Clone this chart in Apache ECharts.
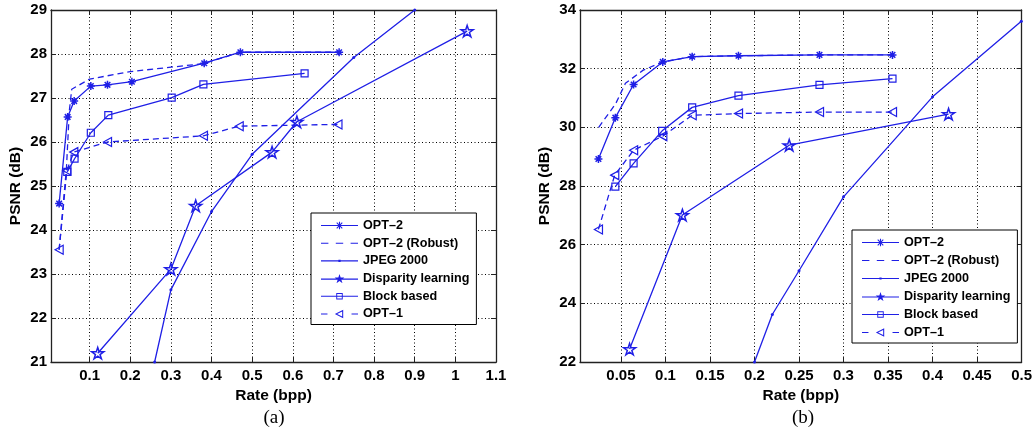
<!DOCTYPE html>
<html>
<head>
<meta charset="utf-8">
<title>Rate vs PSNR</title>
<script src="https://cdn.jsdelivr.net/npm/echarts@6/dist/echarts.min.js"></script>
<style>
  html, body { margin: 0; padding: 0; background: #fff; }
  #main { width: 1035px; height: 436px; }
</style>
</head>
<body>
<div id="main"></div>
<script>
// ---- data, plot (a) ----
const aOpt2Rate = [0.025, 0.046, 0.062, 0.103, 0.144, 0.204, 0.382, 0.471, 0.714];
const aOpt2Psnr = [24.6, 26.57, 26.93, 27.27, 27.3, 27.37, 27.79, 28.04, 28.04];
const aRobustRate = [0.025, 0.043, 0.05, 0.056, 0.1, 0.2, 0.38, 0.471, 0.714];
const aRobustPsnr = [23.55, 25.4, 26.7, 27.2, 27.43, 27.6, 27.78, 28.04, 28.04];
const aJpegRate = [0.26, 0.30, 0.40, 0.50, 0.75, 0.90];
const aJpegPsnr = [21.0, 22.64, 24.42, 25.72, 27.92, 29.0];
const aDispRate = [0.12, 0.30, 0.361, 0.549, 0.61, 1.029];
const aDispPsnr = [21.2, 23.11, 24.55, 25.77, 26.46, 28.52];
const aBlockRate = [0.045, 0.063, 0.103, 0.146, 0.302, 0.38, 0.629];
const aBlockPsnr = [25.32, 25.62, 26.21, 26.61, 27.01, 27.31, 27.56];
const aOpt1Rate = [0.025, 0.044, 0.061, 0.144, 0.38, 0.468, 0.711];
const aOpt1Psnr = [23.55, 25.35, 25.77, 26.0, 26.14, 26.36, 26.4];

// ---- data, plot (b) ----
const bOpt2Rate = [0.0247, 0.0437, 0.0642, 0.097, 0.13, 0.182, 0.273, 0.355];
const bOpt2Psnr = [28.92, 30.33, 31.46, 32.23, 32.41, 32.44, 32.47, 32.47];
const bRobustRate = [0.025, 0.044, 0.055, 0.075, 0.097, 0.13, 0.182, 0.273, 0.355];
const bRobustPsnr = [30.0, 30.8, 31.5, 31.95, 32.23, 32.41, 32.44, 32.47, 32.47];
const bJpegRate = [0.2, 0.22, 0.25, 0.30, 0.40, 0.4997];
const bJpegPsnr = [22.0, 23.62, 25.11, 27.63, 31.04, 33.62];
const bDispRate = [0.0597, 0.119, 0.239, 0.418];
const bDispPsnr = [22.44, 27.01, 29.39, 30.45];
const bBlockRate = [0.0437, 0.0642, 0.0963, 0.13, 0.182, 0.273, 0.355];
const bBlockPsnr = [27.98, 28.77, 29.88, 30.68, 31.08, 31.45, 31.66];
const bOpt1Rate = [0.0247, 0.043, 0.0642, 0.097, 0.13, 0.182, 0.273, 0.355];
const bOpt1Psnr = [26.52, 28.37, 29.22, 29.7, 30.41, 30.47, 30.52, 30.52];

// ---- axes ----
const aRateTicks = [0.1, 0.2, 0.3, 0.4, 0.5, 0.6, 0.7, 0.8, 0.9, 1, 1.1];
const bRateTicks = [0.05, 0.1, 0.15, 0.2, 0.25, 0.3, 0.35, 0.4, 0.45, 0.5];
const seriesNames = ["OPT–2", "OPT–2 (Robust)", "JPEG 2000", "Disparity learning", "Block based", "OPT–1"];

const BLUE = "#1f1fe6";
const FONT = "'Liberation Sans', Arial, sans-serif";

const zip = (xs, ys) => xs.map((x, i) => [x, ys[i]]);

// marker shapes
const asterisk = "path://M0,-5L0,5M-5,0L5,0M-3.5,-3.5L3.5,3.5M-3.5,3.5L3.5,-3.5";
const star = "path://M0,-10L2.245,-3.09L9.51,-3.09L3.633,1.18L5.878,8.09L0,3.82L-5.878,8.09L-3.633,1.18L-9.51,-3.09L-2.245,-3.09Z";
const leftTri = "path://M0,5L9,0L9,10Z";

// legend icons, drawn in a 40x12 box
const lineBar = "M0,5.4H40V6.6H0Z";
const legendIcons = [
  "path://" + lineBar + "M19.4,2H20.6V10H19.4Z M16.6,3.4L17.4,2.6L23.4,8.6L22.6,9.4Z M22.6,2.6L23.4,3.4L17.4,9.4L16.6,8.6Z",
  "path://M0,5.4H8V6.6H0Z M16,5.4H24V6.6H16Z M32,5.4H40V6.6H32Z",
  "path://" + lineBar + "M18.8,4.8H21.2V7.2H18.8Z",
  "path://" + lineBar + "M20,0.5L21.235,4.3L25.23,4.3L22,6.65L23.23,10.45L20,8.1L16.77,10.45L18,6.65L14.77,4.3L18.765,4.3Z",
  "path://" + lineBar + "M16.5,2.5H23.5V9.5H16.5Z M17.5,3.5V8.5H22.5V3.5Z",
  "path://M0,5.4H7V6.6H0Z M33,5.4H40V6.6H33Z M15,6L24,1.5L24,10.5Z M17.4,6L22.9,8.75L22.9,3.25Z",
];

// one line series
function makeSeries(name, idx, data, opts) {
  return {
    type: "line",
    name: name,
    xAxisIndex: idx,
    yAxisIndex: idx,
    data: data,
    symbol: opts.symbol,
    symbolSize: opts.size,
    symbolKeepAspect: true,
    showSymbol: opts.symbol !== "none",
    lineStyle: { color: BLUE, width: 1.3, type: opts.dashed ? [6, 4] : "solid" },
    itemStyle: opts.filled
      ? { color: BLUE, borderColor: BLUE, borderWidth: 0 }
      : { color: "none", borderColor: BLUE, borderWidth: opts.stroke || 1.2 },
    emphasis: { disabled: true },
    z: 3,
  };
}

function seriesFor(idx, d) {
  return [
    makeSeries(seriesNames[0], idx, d.opt2, { symbol: asterisk, size: 8, stroke: 1.5 }),
    makeSeries(seriesNames[1], idx, d.robust, { symbol: "none", dashed: true }),
    makeSeries(seriesNames[2], idx, d.jpeg, { symbol: "circle", size: 3, filled: true }),
    makeSeries(seriesNames[3], idx, d.disp, { symbol: star, size: 12, stroke: 1.5 }),
    makeSeries(seriesNames[4], idx, d.block, { symbol: "rect", size: 7 }),
    makeSeries(seriesNames[5], idx, d.opt1, { symbol: leftTri, size: 9, dashed: true }),
  ];
}

const boxLine = { show: true, onZero: false, lineStyle: { color: "#222", width: 1.3 } };
const gridLine = { show: true, lineStyle: { color: "#000", width: 1, type: [1, 2.5] } };
const tickLabel = { fontFamily: FONT, fontWeight: "bold", fontSize: 15, color: "#000" };
const nameStyle = { fontFamily: FONT, fontWeight: "bold", fontSize: 15.5, color: "#000" };

function xAxes(grid, min, max, ticks) {
  return [
    {
      type: "value", gridIndex: grid, position: "bottom", min: min, max: max,
      axisLine: boxLine,
      axisTick: { show: true, inside: true, length: 5, customValues: ticks, lineStyle: { color: "#222" } },
      axisLabel: Object.assign({ customValues: ticks, margin: 6 }, tickLabel),
      splitLine: gridLine,
      name: "Rate (bpp)", nameLocation: "middle", nameGap: 26, nameTextStyle: nameStyle,
    },
    {
      type: "value", gridIndex: grid, position: "top", min: min, max: max,
      axisLine: boxLine,
      axisTick: { show: true, inside: true, length: 5, customValues: ticks, lineStyle: { color: "#222" } },
      axisLabel: { show: false },
      splitLine: { show: false },
    },
  ];
}

function yAxes(grid, min, max, step) {
  return [
    {
      type: "value", gridIndex: grid, position: "left", min: min, max: max, interval: step,
      axisLine: boxLine,
      axisTick: { show: true, inside: true, length: 5, lineStyle: { color: "#222" } },
      axisLabel: Object.assign({ margin: 4 }, tickLabel),
      splitLine: gridLine,
      name: "PSNR (dB)", nameLocation: "middle", nameGap: 27, nameRotate: 90, nameTextStyle: nameStyle,
    },
    {
      type: "value", gridIndex: grid, position: "right", min: min, max: max, interval: step,
      axisLine: boxLine,
      axisTick: { show: true, inside: true, length: 5, lineStyle: { color: "#222" } },
      axisLabel: { show: false },
      splitLine: { show: false },
    },
  ];
}

function legendAt(left, top, gap) {
  return {
    orient: "vertical",
    left: left,
    top: top,
    itemWidth: 37,
    itemHeight: 12,
    itemGap: gap,
    padding: [6, 7, 4, 10],
    backgroundColor: "#fff",
    borderColor: "#000",
    borderWidth: 1,
    borderRadius: 0,
    selectedMode: false,
    textStyle: { fontFamily: FONT, fontWeight: "bold", fontSize: 12.6, color: "#000" },
    data: seriesNames.map((name, i) => ({
      name: name,
      icon: legendIcons[i],
      itemStyle: { color: BLUE, borderColor: "transparent", borderWidth: 0 },
    })),
    z: 10,
  };
}

const dataA = {
  opt2: zip(aOpt2Rate, aOpt2Psnr),
  robust: zip(aRobustRate, aRobustPsnr),
  jpeg: zip(aJpegRate, aJpegPsnr),
  disp: zip(aDispRate, aDispPsnr),
  block: zip(aBlockRate, aBlockPsnr),
  opt1: zip(aOpt1Rate, aOpt1Psnr),
};
const dataB = {
  opt2: zip(bOpt2Rate, bOpt2Psnr),
  robust: zip(bRobustRate, bRobustPsnr),
  jpeg: zip(bJpegRate, bJpegPsnr),
  disp: zip(bDispRate, bDispPsnr),
  block: zip(bBlockRate, bBlockPsnr),
  opt1: zip(bOpt1Rate, bOpt1Psnr),
};

// x axes 0,1 -> grid 0 ; 2,3 -> grid 1. Series use axis index 0 or 2.
const option = {
  animation: false,
  backgroundColor: "#fff",
  grid: [
    { left: 51, top: 10, width: 445, height: 352 },
    { left: 580, top: 10, width: 445, height: 352 },
  ],
  xAxis: [].concat(xAxes(0, 0.005, 1.1, aRateTicks), xAxes(1, 0.004, 0.5, bRateTicks)),
  yAxis: [].concat(yAxes(0, 21, 29, 1), yAxes(1, 22, 34, 2)),
  legend: [legendAt(311, 213, 4.7), legendAt(852, 230, 5)],
  series: [].concat(seriesFor(0, dataA), seriesFor(2, dataB)),
  graphic: [
    { type: "text", x: 274, y: 418, style: { text: "(a)", font: "19px 'Liberation Serif', serif", fill: "#000", align: "center", verticalAlign: "middle" } },
    { type: "text", x: 803, y: 418, style: { text: "(b)", font: "19px 'Liberation Serif', serif", fill: "#000", align: "center", verticalAlign: "middle" } },
  ],
};

const chart = echarts.init(document.getElementById("main"));
chart.setOption(option);
</script>
</body>
</html>
